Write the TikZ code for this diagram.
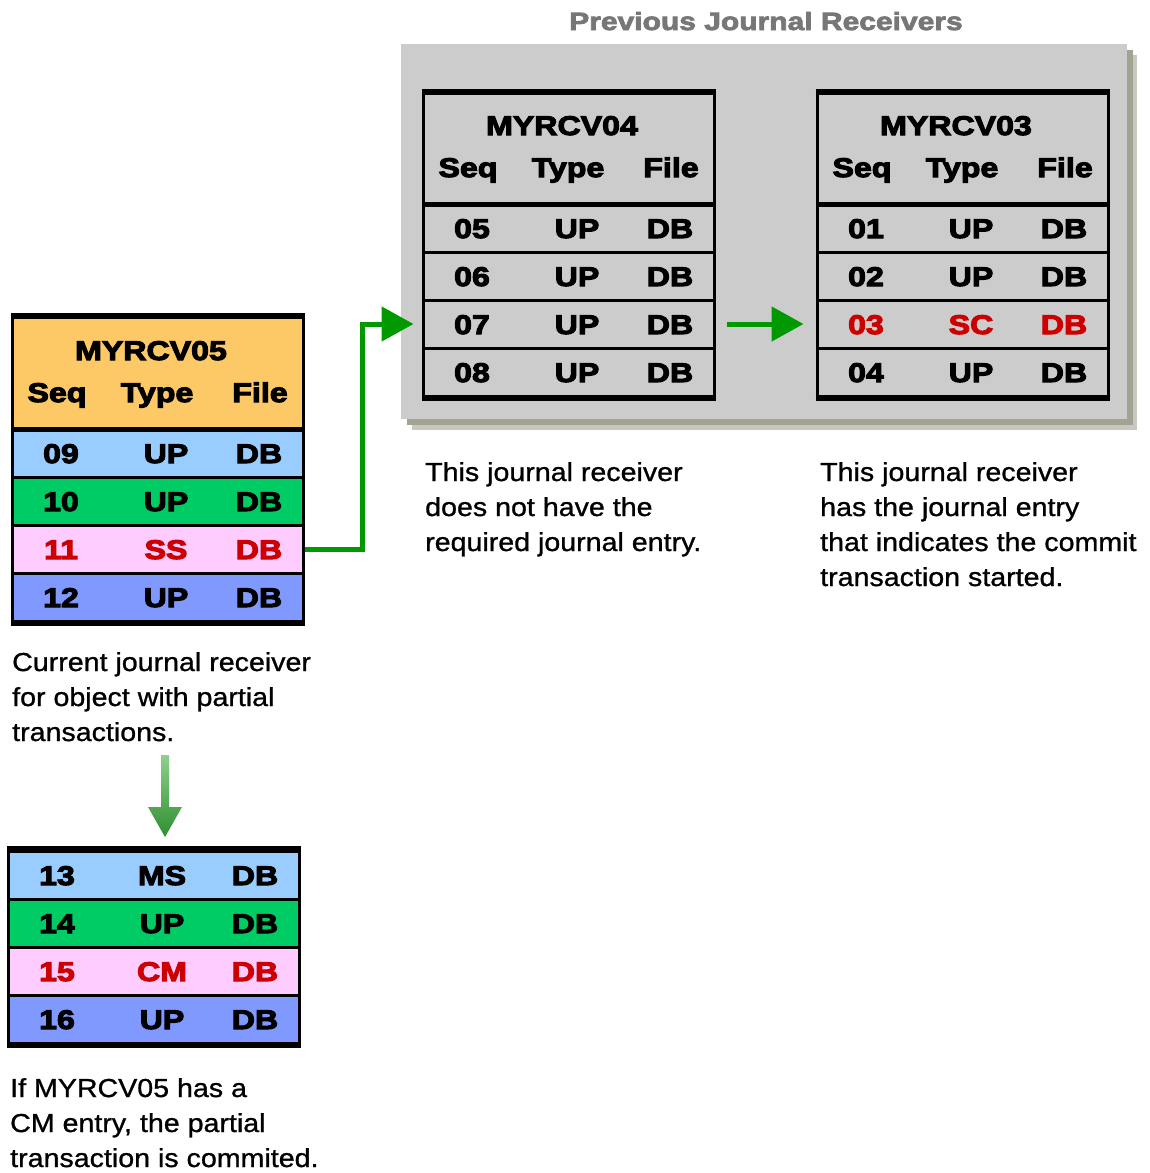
\documentclass[tikz,border=0pt]{standalone}
\usepackage{fontspec}
\usetikzlibrary{arrows.meta,calc}
\newfontfamily\tblf[FakeStretch=1.19,FakeBold=4]{Liberation Sans Bold}
\newfontfamily\capf[FakeStretch=1.1,FakeBold=1]{Liberation Sans}
\newfontfamily\ttlf[FakeStretch=1.2,FakeBold=3]{Liberation Sans Bold}
\definecolor{hdrorange}{HTML}{FDC866}
\definecolor{ltblue}{HTML}{99CCFF}
\definecolor{rowgreen}{HTML}{00CC66}
\definecolor{rowpink}{HTML}{FFCCFF}
\definecolor{rowblue}{HTML}{7F99FF}
\definecolor{txtred}{HTML}{CC0000}
\definecolor{panelgray}{HTML}{CCCCCC}
\definecolor{shadowA}{HTML}{A3A394}
\definecolor{shadowB}{HTML}{C8C8BE}
\definecolor{titlegray}{HTML}{777777}
\definecolor{conngreen}{HTML}{009900}
\definecolor{arrlight}{HTML}{8ED08E}
\definecolor{arrdark}{HTML}{2F8F2F}
\tikzset{
  rowbox/.style={draw, line width=3, minimum width=291, minimum height=48, inner sep=0},
  hdrbox/.style={draw, line width=3, minimum width=291, minimum height=114, inner sep=0},
  celltxt/.style={anchor=base, inner sep=0, font=\tblf\fontsize{27}{30}\selectfont},
  captxt/.style={anchor=base west, align=left, inner sep=0, font=\capf\fontsize{26}{35}\selectfont},
  gconn/.style={draw=conngreen, line width=5, -{Triangle[length=32pt,width=34pt]}},
}
% row: name, left, rowtop, fill, textcolor, seq, type, file
\newcommand\jrow[8]{%
  \node[rowbox,fill=#4] (#1) at (#2+145.5,#3+24) {};
  \node[celltxt,text=#5] (#1-s) at (#2+49,#3+34) {#6};
  \node[celltxt,text=#5] (#1-t) at (#2+154,#3+34) {#7};
  \node[celltxt,text=#5] (#1-f) at (#2+247,#3+34) {#8};}
% header: name, left, rowstart, fill, title
\newcommand\jhead[5]{%
  \node[hdrbox,fill=#4] (#1) at (#2+145.5,#3-57) {};
  \node[celltxt] (#1-n) at (#2+139,#3-69) {#5};
  \node[celltxt] (#1-s) at (#2+45,#3-27) {Seq};
  \node[celltxt] (#1-t) at (#2+145,#3-27) {Type};
  \node[celltxt] (#1-f) at (#2+248,#3-27) {File};}
% frame lines: left, rowstart, top (thick line y)
\newcommand\jframe[3]{%
  \draw[line width=3] (#1,#3) rectangle (#1+291,#2+194);
  \draw[line width=6] (#1-1.5,#3) -- (#1+292.5,#3);
  \draw[line width=6] (#1-1.5,#2+194) -- (#1+292.5,#2+194);}
\begin{document}
\begin{tikzpicture}[x=1pt,y=-1pt]
\useasboundingbox (0,0) rectangle (1150,1173);
% panel with shadow
\fill[shadowB] (412,55) rectangle (1137,430);
\fill[shadowA] (407,50) rectangle (1133,425);
\node[fill=panelgray, minimum width=726, minimum height=375, inner sep=0] (panel) at (764,231.5) {};
\node[anchor=base, inner sep=0, text=titlegray, font=\ttlf\fontsize{25}{28}\selectfont] (title) at (766,30) {Previous Journal Receivers};

% MYRCV05
\jhead{h05}{12}{429}{hdrorange}{MYRCV05}
\jrow{r09}{12}{429}{ltblue}{black}{09}{UP}{DB}
\jrow{r10}{12}{477}{rowgreen}{black}{10}{UP}{DB}
\jrow{r11}{12}{525}{rowpink}{txtred}{11}{SS}{DB}
\jrow{r12}{12}{573}{rowblue}{black}{12}{UP}{DB}
\draw[line width=5] (12,429) -- (303,429);
\jframe{12}{429}{316}

% MYRCV04
\jhead{h04}{423}{204}{panelgray}{MYRCV04}
\jrow{r05}{423}{204}{panelgray}{black}{05}{UP}{DB}
\jrow{r06}{423}{252}{panelgray}{black}{06}{UP}{DB}
\jrow{r07}{423}{300}{panelgray}{black}{07}{UP}{DB}
\jrow{r08}{423}{348}{panelgray}{black}{08}{UP}{DB}
\draw[line width=5] (423,204) -- (714,204);
\jframe{423}{204}{92}

% MYRCV03
\jhead{h03}{817}{204}{panelgray}{MYRCV03}
\jrow{r01}{817}{204}{panelgray}{black}{01}{UP}{DB}
\jrow{r02}{817}{252}{panelgray}{black}{02}{UP}{DB}
\jrow{r03}{817}{300}{panelgray}{txtred}{03}{SC}{DB}
\jrow{r04}{817}{348}{panelgray}{black}{04}{UP}{DB}
\draw[line width=5] (817,204) -- (1108,204);
\jframe{817}{204}{92}

% lower table
\jrow{r13}{8}{851}{ltblue}{black}{13}{MS}{DB}
\jrow{r14}{8}{899}{rowgreen}{black}{14}{UP}{DB}
\jrow{r15}{8}{947}{rowpink}{txtred}{15}{CM}{DB}
\jrow{r16}{8}{995}{rowblue}{black}{16}{UP}{DB}
\draw[line width=3] (8,849) rectangle (299,1045);
\draw[line width=6] (6.5,849) -- (300.5,849);
\draw[line width=6] (6.5,1045) -- (300.5,1045);

% connectors
\draw[gconn, shorten >=8pt] (r11.east) -- ++(58,0) |- (r07.west);
\draw[gconn, shorten <=11pt, shorten >=12pt] (r07.east) -- (r03.west);

% captions (base anchor lies below the last line)
\node[captxt] (c05) at (12,741) {Current journal receiver\\for object with partial\\transactions.};
\node[captxt] (c04) at (425,551) {This journal receiver\\does not have the\\required journal entry.};
\node[captxt] (c03) at (820,586) {This journal receiver\\has the journal entry\\that indicates the commit\\transaction started.};
\node[captxt] (clow) at (10,1167) {If MYRCV05 has a\\CM entry, the partial\\transaction is commited.};

% down arrow
\coordinate (dstart) at (165,755);
\coordinate (dend) at (165,837);
\shade[top color=arrlight, bottom color=arrdark]
  ($(dstart)+(-4,0)$) -- ($(dstart)+(4,0)$) -- ($(dend)+(4,-30)$) -- ($(dend)+(17,-30)$)
  -- (dend) -- ($(dend)+(-17,-30)$) -- ($(dend)+(-4,-30)$) -- cycle;
\end{tikzpicture}
\end{document}
